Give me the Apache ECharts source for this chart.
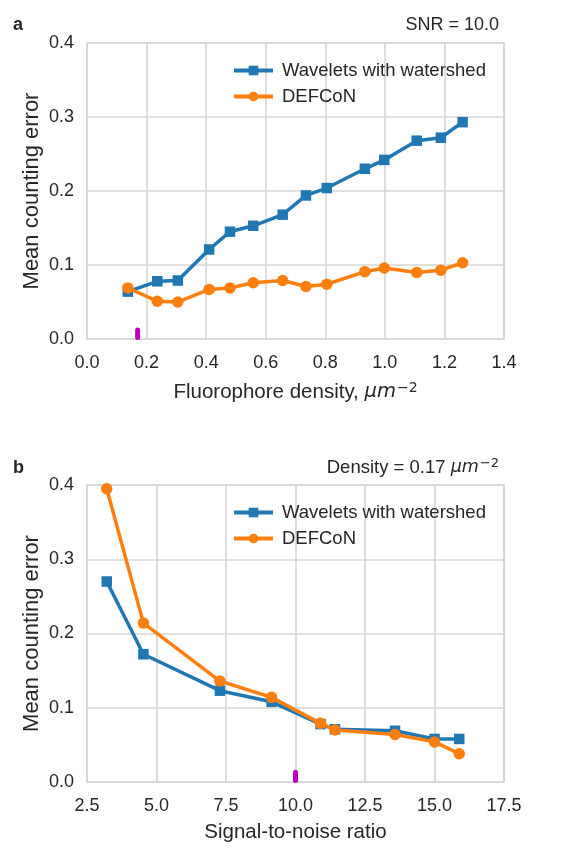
<!DOCTYPE html>
<html>
<head>
<meta charset="utf-8">
<script src="https://cdn.jsdelivr.net/npm/echarts@6/dist/echarts.min.js"></script>
<style>html,body{margin:0;padding:0;background:#fff}#c{width:577px;height:848px}</style>
</head>
<body>
<div id="c"></div>
<script>
// Panel a: error vs fluorophore density (SNR = 10.0)
const densityX = [0.137, 0.236, 0.305, 0.41, 0.48, 0.558, 0.657, 0.735, 0.805, 0.933, 0.998, 1.107, 1.188, 1.261];
const waveletsA = [0.064, 0.078, 0.079, 0.121, 0.145, 0.153, 0.168, 0.194, 0.204, 0.230, 0.242, 0.268, 0.272, 0.293];
const defconA = [0.069, 0.051, 0.050, 0.067, 0.069, 0.076, 0.079, 0.071, 0.074, 0.091, 0.096, 0.090, 0.093, 0.103];
const markerA = [[0.17, 0.002], [0.17, 0.012]];
// Panel b: error vs SNR (density = 0.17)
const snrX = [3.21, 4.53, 7.28, 9.14, 10.9, 11.42, 13.58, 15.0, 15.89];
const waveletsB = [0.270, 0.172, 0.123, 0.108, 0.078, 0.071, 0.069, 0.058, 0.058];
const defconB = [0.395, 0.214, 0.136, 0.114, 0.079, 0.070, 0.064, 0.054, 0.038];
const markerB = [[10.0, 0.002], [10.0, 0.013]];
const seriesNames = ['Wavelets with watershed', 'DEFCoN'];
const yTicks = [0, 0.1, 0.2, 0.3, 0.4];

const FONT = '"Liberation Sans", Arial, sans-serif';
const MATH = '"DejaVu Sans", sans-serif';
const TXT = '#262626';
const GRID = '#d6d6d6';
const BLUE = '#1f77b4', ORANGE = '#ff7f0e', MAG = '#bf00bf';

const pair = (xs, ys) => xs.map((x, i) => [x, ys[i]]);

function richUnits(size) {
  return {
    n: {fontFamily: FONT, fontSize: size, color: TXT},
    i: {fontFamily: MATH, fontStyle: 'italic', fontSize: size - 1, color: TXT},
    s: {fontFamily: MATH, fontSize: Math.round(size * 0.68), color: TXT, verticalAlign: 'top', padding: [0, 0, 8, 1]}
  };
}

function xAxis(gi, min, max, interval, name, gap) {
  return {
    type: 'value', gridIndex: gi, min, max, interval,
    name, nameLocation: 'middle', nameGap: gap, nameMoveOverlap: false,
    nameTextStyle: {fontFamily: FONT, fontSize: 20.5, color: TXT, rich: richUnits(20.5)},
    axisLine: {show: false}, axisTick: {show: false},
    axisLabel: {fontFamily: FONT, fontSize: 18, color: TXT, margin: 15, formatter: v => v.toFixed(1)},
    splitLine: {show: true, lineStyle: {color: GRID, width: 1.6}}
  };
}
function yAxis(gi) {
  return {
    type: 'value', gridIndex: gi, min: yTicks[0], max: yTicks[yTicks.length - 1], interval: 0.1,
    name: 'Mean counting error', nameLocation: 'middle', nameGap: 44, nameMoveOverlap: false,
    nameTextStyle: {fontFamily: FONT, fontSize: 22, color: TXT},
    axisLine: {show: false}, axisTick: {show: false},
    axisLabel: {fontFamily: FONT, fontSize: 18, color: TXT, margin: 13, formatter: v => v.toFixed(1)},
    splitLine: {show: true, lineStyle: {color: GRID, width: 1.6}}
  };
}
function lineSeries(name, gi, data, color, symbol) {
  return {
    name, type: 'line', xAxisIndex: gi, yAxisIndex: gi, data,
    symbol, symbolSize: symbol === 'rect' ? 10.5 : 11.5,
    lineStyle: {color, width: 3.5}, itemStyle: {color},
    z: name === 'DEFCoN' ? 3 : 2, animation: false
  };
}
function marker(gi, data) {
  return {
    name: 'marker', type: 'line', xAxisIndex: gi, yAxisIndex: gi, data,
    symbol: 'none', lineStyle: {color: MAG, width: 5, cap: 'round'}, z: 4, animation: false
  };
}
function legend(top) {
  return {
    data: seriesNames, orient: 'vertical', left: 227, top,
    itemWidth: 39, itemHeight: 12, itemGap: 7,
    lineStyle: {width: 4},
    textStyle: {fontFamily: FONT, fontSize: 18.5, color: TXT, padding: [0, 0, 0, 4]}
  };
}

const chart = echarts.init(document.getElementById('c'), null, {renderer: 'canvas'});
chart.setOption({
  backgroundColor: '#fff',
  animation: false,
  title: [
    {text: 'a', left: 8, top: 11, textStyle: {fontFamily: FONT, fontSize: 18, fontWeight: 'bold', color: TXT}},
    {text: 'SNR = 10.0', right: 73, top: 11, textStyle: {fontFamily: FONT, fontSize: 18, fontWeight: 'normal', color: TXT}},
    {text: 'b', left: 8, top: 454, textStyle: {fontFamily: FONT, fontSize: 18, fontWeight: 'bold', color: TXT}},
    {text: '{n|Density = 0.17 }{i|μm}{s|−2}', right: 73, top: 452,
     textStyle: {fontFamily: FONT, fontSize: 18, fontWeight: 'normal', color: TXT, rich: richUnits(18.5)}}
  ],
  legend: [legend(56), legend(498)],
  grid: [
    {left: 87, right: 73, top: 43, height: 296, show: true, borderColor: GRID, borderWidth: 1.6, backgroundColor: 'transparent'},
    {left: 87, right: 73, top: 485, height: 297, show: true, borderColor: GRID, borderWidth: 1.6, backgroundColor: 'transparent'}
  ],
  xAxis: [
    xAxis(0, 0, 1.4, 0.2, '{n|Fluorophore density, }{i|μm}{s|−2}', 42),
    xAxis(1, 2.5, 17.5, 2.5, 'Signal-to-noise ratio', 40)
  ],
  yAxis: [yAxis(0), yAxis(1)],
  series: [
    lineSeries(seriesNames[0], 0, pair(densityX, waveletsA), BLUE, 'rect'),
    lineSeries(seriesNames[1], 0, pair(densityX, defconA), ORANGE, 'circle'),
    marker(0, markerA),
    lineSeries(seriesNames[0], 1, pair(snrX, waveletsB), BLUE, 'rect'),
    lineSeries(seriesNames[1], 1, pair(snrX, defconB), ORANGE, 'circle'),
    marker(1, markerB)
  ]
});
</script>
</body>
</html>
